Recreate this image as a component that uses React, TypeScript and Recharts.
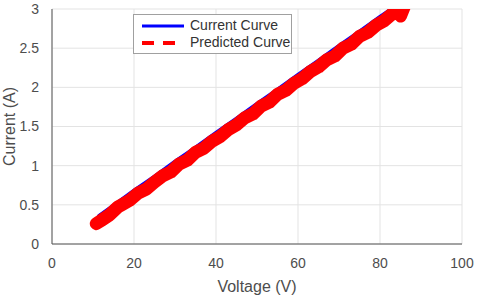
import { CartesianGrid, Label, Line, LineChart, XAxis, YAxis } from "recharts";

const voltageTicks = [0, 20, 40, 60, 80, 100];
const currentTicks = [0, 0.5, 1, 1.5, 2, 2.5, 3];

// measured curve
const measuredVoltage = [11.5, 15, 20, 25, 30, 35, 40, 45, 50, 55, 60, 65, 70, 75, 80, 84];
const measuredCurrent = [0.36, 0.49, 0.68, 0.86, 1.05, 1.23, 1.42, 1.6, 1.79, 1.97, 2.16, 2.34, 2.53, 2.71, 2.9, 3.04];

// model output (noisy)
const predictedVoltage = [
  10.8, 12, 14, 16, 17, 19, 21, 23, 25, 27, 29, 31, 33, 35, 37, 39, 41, 43, 45, 47, 49,
  51, 53, 55, 57, 59, 61, 63, 65, 67, 69, 71, 73, 75, 77, 79, 81, 83, 84.5, 85, 86,
];
const predictedCurrent = [
  0.26, 0.3, 0.37, 0.47, 0.5, 0.56, 0.65, 0.7, 0.79, 0.87, 0.92, 1.02, 1.07, 1.17, 1.22, 1.31, 1.37, 1.46, 1.52, 1.61, 1.66,
  1.76, 1.81, 1.91, 1.96, 2.05, 2.11, 2.2, 2.26, 2.35, 2.4, 2.5, 2.55, 2.65, 2.7, 2.79, 2.85, 2.94, 2.98, 2.91, 3.04,
];

const legendItems = [
  { name: "Current Curve", color: "#0000ff", dash: false },
  { name: "Predicted Curve", color: "#ff0000", dash: true },
];

const measured = measuredVoltage.map((v, i) => ({ v, cur: measuredCurrent[i] }));
const predicted = predictedVoltage.map((v, i) => ({ v, cur: predictedCurrent[i] }));

const font = "'Liberation Sans', Arial, sans-serif";
const tickStyle = { fill: "#4d4d4d", fontSize: 14, fontFamily: font };

function LegendBox() {
  return (
    <div
      style={{
        position: "absolute",
        left: 133,
        top: 14,
        width: 159,
        boxSizing: "border-box",
        border: "1px solid #a0a0a0",
        background: "#fff",
        padding: "2px 0 2px 6px",
        fontFamily: font,
        fontSize: 14,
        color: "#333",
        lineHeight: "17px",
      }}
    >
      {legendItems.map((it) => (
        <div key={it.name} style={{ display: "flex", alignItems: "center" }}>
          <svg width={46} height={10} style={{ marginRight: 4 }}>
            <line
              x1={2}
              y1={5}
              x2={44}
              y2={5}
              stroke={it.color}
              strokeWidth={it.dash ? 4 : 3}
              strokeDasharray={it.dash ? "12 9" : undefined}
            />
          </svg>
          <span>{it.name}</span>
        </div>
      ))}
    </div>
  );
}

export default function App() {
  return (
    <div style={{ position: "absolute", left: 0, top: 0, width: 480, height: 298, background: "#fff" }}>
      <LineChart width={480} height={298} margin={{ top: 9, right: 18, left: 0, bottom: 0 }}>
        <CartesianGrid stroke="#e3e3e3" />
        <XAxis
          type="number"
          dataKey="v"
          domain={[0, 100]}
          ticks={voltageTicks}
          allowDataOverflow
          height={54}
          tickLine={false}
          tickMargin={8}
          stroke="#555"
          tick={tickStyle}
        >
          <Label value="Voltage (V)" position="insideBottom" offset={6} style={{ fill: "#4d4d4d", fontSize: 16, fontFamily: font }} />
        </XAxis>
        <YAxis
          type="number"
          dataKey="cur"
          domain={[0, 3]}
          ticks={currentTicks}
          allowDataOverflow
          width={52}
          tickLine={false}
          tickMargin={7}
          stroke="#555"
          tick={tickStyle}
        >
          <Label
            value="Current (A)"
            angle={-90}
            position="insideLeft"
            offset={9}
            style={{ textAnchor: "middle", fill: "#4d4d4d", fontSize: 16, fontFamily: font }}
          />
        </YAxis>
        <Line
          data={measured}
          dataKey="cur"
          stroke="#0000ff"
          strokeWidth={4}
          strokeLinecap="round"
          dot={false}
          isAnimationActive={false}
        />
        <Line
          data={predicted}
          dataKey="cur"
          stroke="#ff0000"
          strokeWidth={13}
          strokeLinejoin="round"
          strokeLinecap="round"
          dot={false}
          isAnimationActive={false}
        />
      </LineChart>
      <LegendBox />
    </div>
  );
}
